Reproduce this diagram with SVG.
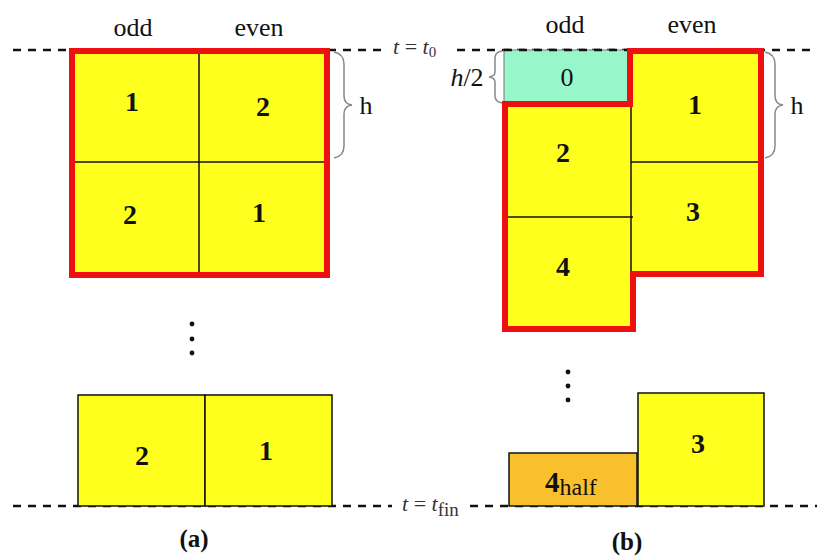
<svg xmlns="http://www.w3.org/2000/svg" width="817" height="559" viewBox="0 0 817 559">
<defs>
<style>
.dash{stroke:#111;stroke-width:2.5;stroke-dasharray:8 7;fill:none}
.cell{fill:#FFFF1E;stroke:#111;stroke-width:1.5}
.div{stroke:#111;stroke-width:1.5;fill:none}
.red{fill:none;stroke:#EE0F0F;stroke-width:6;stroke-linejoin:miter}
.num{font-family:"Liberation Serif",serif;font-weight:bold;font-size:28px;fill:#111;text-anchor:middle}
.lbl{font-family:"Liberation Serif",serif;font-size:26px;fill:#111;text-anchor:middle}
.brace{fill:none;stroke:#888;stroke-width:1.5}
.tl{font-family:"Liberation Serif",serif;font-size:22px;fill:#333}
.cap{font-family:"Liberation Serif",serif;font-weight:bold;font-size:25px;fill:#111;text-anchor:middle}
.dot{fill:#111}
</style>
</defs>
<rect width="817" height="559" fill="#fff"/>
<g id="timelines">
<line class="dash" x1="13" y1="50" x2="388" y2="50"/>
<line class="dash" x1="457" y1="50" x2="817" y2="50"/>
<text class="tl" x="393" y="54"><tspan font-style="italic">t</tspan> = <tspan font-style="italic">t</tspan><tspan font-size="15" dy="3">0</tspan></text>
<line class="dash" x1="13" y1="506" x2="392" y2="506"/>
<line class="dash" x1="470" y1="506" x2="817" y2="506"/>
<text class="tl" x="402" y="511" font-size="24"><tspan font-style="italic">t</tspan> = <tspan font-style="italic">t</tspan><tspan font-size="19" dy="5">fin</tspan></text>
</g>
<g id="panel-a">
<text class="lbl" x="133" y="36">odd</text>
<text class="lbl" x="259" y="36">even</text>
<g id="a-top">
<rect x="72" y="51" width="255" height="224" fill="#FFFF1E"/>
<line class="div" x1="199" y1="51" x2="199" y2="275"/>
<line class="div" x1="72" y1="162" x2="327" y2="162"/>
<rect class="red" x="72" y="51" width="255" height="224"/>
<text class="num" x="132" y="111">1</text>
<text class="num" x="263" y="116">2</text>
<text class="num" x="130" y="224">2</text>
<text class="num" x="259" y="222">1</text>
</g>
<path class="brace" d="M334,52 Q344,54 344,64 L344,96 Q344,104 352,105 Q344,106 344,114 L344,146 Q344,156 334,158"/>
<text class="lbl" x="366" y="114">h</text>
<g id="a-dots">
<circle class="dot" cx="192" cy="324" r="2.4"/>
<circle class="dot" cx="192" cy="339" r="2.4"/>
<circle class="dot" cx="192" cy="353" r="2.4"/>
</g>
<g id="a-bottom">
<rect class="cell" x="78" y="395" width="127" height="111"/>
<rect class="cell" x="205" y="395" width="127" height="111"/>
<text class="num" x="142" y="465">2</text>
<text class="num" x="266" y="460">1</text>
</g>
<text class="cap" x="194" y="547">(a)</text>
</g>
<g id="panel-b">
<text class="lbl" x="565" y="33">odd</text>
<text class="lbl" x="692" y="33">even</text>
<g id="b-zero">
<rect x="504" y="50" width="126" height="54" fill="#98F7CA" stroke="#777" stroke-width="1"/>
<line class="dash" x1="504" y1="50" x2="630" y2="50" stroke-width="1.5"/>
<text class="lbl" x="567" y="86">0</text>
</g>
<g id="b-top">
<path d="M505,104 L630,104 L630,51 L761,51 L761,274 L633,274 L633,329 L505,329 Z" fill="#FFFF1E"/>
<line class="div" x1="631" y1="104" x2="631" y2="274"/>
<line class="div" x1="505" y1="217" x2="633" y2="217"/>
<line class="div" x1="631" y1="162" x2="761" y2="162"/>
<path class="red" d="M505,104 L630,104 L630,51 L761,51 L761,274 L633,274 L633,329 L505,329 Z"/>
<text class="num" x="563" y="162">2</text>
<text class="num" x="563" y="276">4</text>
<text class="num" x="695" y="114">1</text>
<text class="num" x="693" y="221">3</text>
</g>
<path class="brace" d="M502,51 Q495,52 495,58 L495,72 Q495,76 489,77 Q495,78 495,82 L495,96 Q495,102 502,103"/>
<text class="lbl" x="467" y="86"><tspan font-style="italic">h</tspan>/2</text>
<path class="brace" d="M765,52 Q775,54 775,64 L775,96 Q775,104 783,105 Q775,106 775,114 L775,146 Q775,156 765,158"/>
<text class="lbl" x="797" y="114">h</text>
<g id="b-dots">
<circle class="dot" cx="568" cy="372" r="2.4"/>
<circle class="dot" cx="568" cy="386" r="2.4"/>
<circle class="dot" cx="568" cy="400" r="2.4"/>
</g>
<g id="b-bottom">
<rect x="509" y="453" width="128" height="53" fill="#F8C02C" stroke="#111" stroke-width="1.5"/>
<rect class="cell" x="638" y="393" width="126" height="113"/>
<text x="545" y="492" font-family="Liberation Serif, serif" font-size="29" font-weight="bold" fill="#111">4<tspan font-weight="normal" font-size="24" dy="3">half</tspan></text>
<text class="num" x="698" y="453">3</text>
</g>
<text class="cap" x="627" y="550">(b)</text>
</g>
</svg>
